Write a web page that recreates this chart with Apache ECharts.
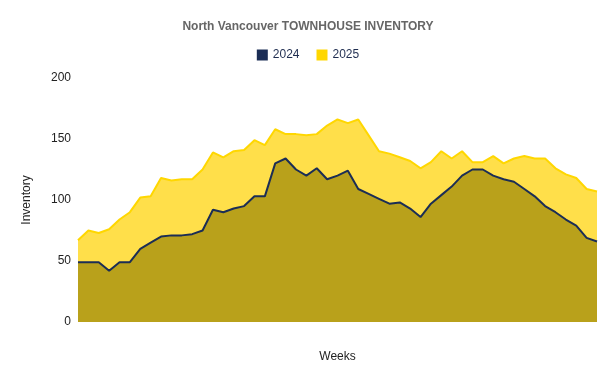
<!DOCTYPE html>
<html>
<head>
<meta charset="utf-8">
<script src="https://cdn.jsdelivr.net/npm/echarts@6/dist/echarts.min.js"></script>
<style>html,body{margin:0;padding:0;background:#fff}#c{width:616px;height:381px}</style>
</head>
<body>
<div id="c"></div>
<script>
const weeks = Array.from({length: 51}, (_, i) => String(i + 1));
const inv2024 = [49,49,49,42,49,49,60,65,70,71,71,72,75,92,90,93,95,103,103,130,134,125,120,126,117,120,124,109,105,101,97,98,93,86,97,104,111,120,125,125,120,117,115,109,103,95,90,84,79,69,66];
const inv2025 = [67,75,73,76,84,90,102,103,118,116,117,117,125,139,135,140,141,149,145,158,154,154,153,154,161,166,163,166,153,140,138,135,132,126,131,140,134,140,131,131,136,130,134,136,134,134,126,121,118,109,107];
const yTicks = {min: 0, max: 200, interval: 50};

const chart = echarts.init(document.getElementById('c'), null, {renderer: 'canvas'});
chart.setOption({
  animation: false,
  backgroundColor: '#ffffff',
  textStyle: {fontFamily: 'Liberation Sans, Arial, sans-serif'},
  title: {
    text: 'North Vancouver TOWNHOUSE INVENTORY',
    left: 'center', top: 16,
    textStyle: {fontSize: 12, fontWeight: 'bold', color: '#666666', fontFamily: 'Liberation Sans, Arial, sans-serif'}
  },
  legend: {
    top: 44, left: 'center',
    icon: 'rect', itemWidth: 11, itemHeight: 11, itemGap: 17,
    textStyle: {fontSize: 12, color: '#1f2d50'},
    data: ['2024', '2025']
  },
  grid: {left: 78, right: 19, top: 78, bottom: 59, containLabel: false},
  xAxis: {
    type: 'category', data: weeks, boundaryGap: false,
    name: 'Weeks', nameLocation: 'middle', nameGap: 29,
    nameTextStyle: {fontSize: 12, color: '#222'},
    axisLabel: {show: false}, axisTick: {show: false}, axisLine: {show: false}, splitLine: {show: false}
  },
  yAxis: {
    type: 'value', min: yTicks.min, max: yTicks.max, interval: yTicks.interval,
    name: 'Inventory', nameLocation: 'middle', nameGap: 45,
    nameTextStyle: {fontSize: 12, color: '#222'},
    axisLabel: {fontSize: 12, color: '#222', margin: 7},
    axisLine: {show: false}, axisTick: {show: false}, splitLine: {show: false}
  },
  series: [
    {
      name: '2024', type: 'line', data: inv2024, z: 3,
      showSymbol: false, symbol: 'none',
      itemStyle: {color: '#1b2d55'},
      lineStyle: {color: '#1b2d55', width: 2},
      areaStyle: {color: '#b9a11b', opacity: 1}
    },
    {
      name: '2025', type: 'line', data: inv2025, z: 2,
      showSymbol: false, symbol: 'none',
      itemStyle: {color: '#ffd700'},
      lineStyle: {color: '#ffd700', width: 2},
      areaStyle: {color: '#ffdf4a', opacity: 1}
    }
  ]
});
</script>
</body>
</html>
